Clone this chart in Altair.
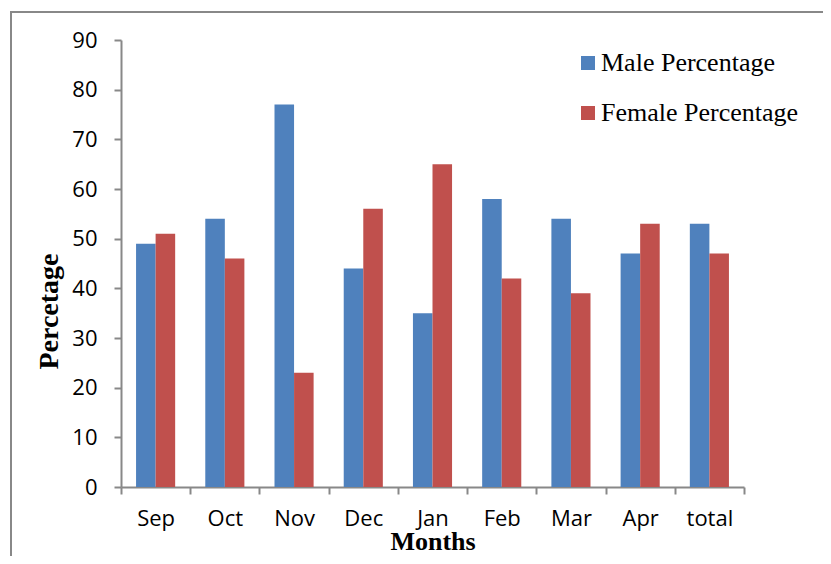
import altair as alt
import pandas as pd

months = ["Sep", "Oct", "Nov", "Dec", "Jan", "Feb", "Mar", "Apr", "total"]
male = [49, 54, 77, 44, 35, 58, 54, 47, 53]
female = [51, 46, 23, 56, 65, 42, 39, 53, 47]
series = ["Male Percentage", "Female Percentage"]
colors = ["#4F81BD", "#C0504D"]
y_ticks = [0, 10, 20, 30, 40, 50, 60, 70, 80, 90]

rows = []
for m, a, b in zip(months, male, female):
    rows.append({"month": m, "series": series[0], "value": a})
    rows.append({"month": m, "series": series[1], "value": b})
df = pd.DataFrame(rows)

label_font = "Open Sans"
serif = "Liberation Serif"

bars = alt.Chart(df).mark_bar().encode(
    x=alt.X(
        "month:N",
        sort=months,
        scale=alt.Scale(paddingInner=0, paddingOuter=0),
        axis=alt.Axis(
            title="Months",
            labelAngle=0,
            tickBand="extent",
            tickSize=7,
            labelPadding=14,
            labelFont=label_font,
            labelFontSize=22,
            labelColor="#000",
            titleFont=serif,
            titleFontSize=26,
            titleFontWeight="bold",
            titleColor="#000",
            titleBaseline="alphabetic",
            titleY=62,
        ),
    ),
    xOffset=alt.XOffset(
        "series:N",
        sort=series,
        scale=alt.Scale(paddingInner=0, paddingOuter=0.77),
    ),
    y=alt.Y(
        "value:Q",
        scale=alt.Scale(domain=[0, 90], nice=False),
        axis=alt.Axis(
            title="Percetage",
            values=y_ticks,
            grid=False,
            tickSize=7,
            labelPadding=17,
            labelFont=label_font,
            labelFontSize=22,
            labelColor="#000",
            titleFont=serif,
            titleFontSize=28,
            titleFontWeight="bold",
            titleColor="#000",
            titleAngle=-90,
            titleBaseline="middle",
            titleAlign="center",
            titleX=-72,
            titleY=271,
        ),
    ),
    color=alt.Color(
        "series:N",
        sort=series,
        scale=alt.Scale(domain=series, range=colors),
        legend=alt.Legend(
            title=None,
            orient="none",
            legendX=454,
            legendY=10,
            symbolType="square",
            symbolSize=196,
            symbolStrokeWidth=0,
            symbolOpacity=1,
            labelFont=serif,
            labelFontSize=26,
            labelColor="#000",
            labelOffset=0,
            rowPadding=24,
            labelLimit=400,
        ),
    ),
)

frame = alt.Chart(alt.Data(values=[{}])).mark_rect(
    fill=None, stroke="#888888", strokeWidth=2, clip=False
).encode(
    x=alt.value(-110),
    x2=alt.value(760),
    y=alt.value(-28),
    y2=alt.value(560),
)

chart = alt.layer(frame, bars).properties(
    width=623,
    height=447,
    padding={"left": 113, "top": 32, "right": 79, "bottom": 69},
    autosize=alt.AutoSizeParams(type="none"),
).configure_axis(
    domainColor="#888888",
    tickColor="#888888",
    domainWidth=2,
    tickWidth=2,
).configure_view(stroke=None)

chart.save("out.html", embed_options={"renderer": "svg", "actions": False})
